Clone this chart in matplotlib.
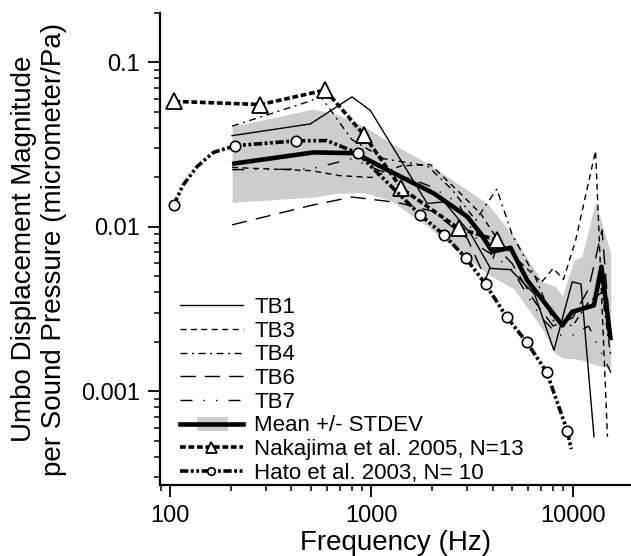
import matplotlib
matplotlib.use('Agg')
import matplotlib.pyplot as plt
from matplotlib.patches import Patch, Rectangle
from matplotlib.lines import Line2D
from matplotlib.legend_handler import HandlerPatch

plt.rcParams['font.family'] = ['Liberation Sans', 'DejaVu Sans']

# individual bones
tb1_f = [203, 497, 801, 988, 1893, 2300, 3112, 3906, 4912, 6470, 8070, 9950, 11000, 12770]
tb1_v = [0.0359, 0.0423, 0.0618, 0.0511, 0.0139, 0.0142, 0.0091, 0.0056, 0.0055, 0.0039, 0.00178, 0.00464, 0.0045, 0.00053]

tb3_f = [203, 500, 700, 1000, 1400, 1960, 2700, 3500, 4200, 5000, 7000, 8000, 9000, 10350, 13000, 14900]
tb3_v = [0.023, 0.022, 0.0205, 0.02, 0.0235, 0.024, 0.0165, 0.012, 0.0085, 0.0068, 0.0046, 0.0056, 0.0048, 0.0083, 0.029, 0.00053]

tb4_f = [203, 490, 560, 800, 1150, 1900, 2500, 3300, 4200, 5000, 6500, 8000, 10000, 12000, 14000, 15500]
tb4_v = [0.041, 0.058, 0.062, 0.034, 0.026, 0.0235, 0.017, 0.011, 0.017, 0.009, 0.005, 0.0027, 0.0025, 0.0035, 0.004, 0.0016]

tb6_f = [203, 500, 800, 1340, 2000, 3000, 3700, 4200, 5000, 6500, 8000, 10000, 12000, 14000, 15500]
tb6_v = [0.0103, 0.0135, 0.0152, 0.0141, 0.0125, 0.0085, 0.0048, 0.0075, 0.006, 0.0035, 0.0025, 0.0028, 0.0042, 0.0096, 0.002]

tb7_f = [203, 500, 800, 1100, 1500, 2000, 2700, 3500, 4200, 5000, 6000, 7000, 8500, 10000, 12000, 15500]
tb7_v = [0.0223, 0.0225, 0.026, 0.022, 0.020, 0.0175, 0.014, 0.0075, 0.0065, 0.0055, 0.0038, 0.0028, 0.0022, 0.0022, 0.0025, 0.0013]

# mean and +/- stdev band
mean_f = [203, 516, 832, 1151, 2043, 2992, 3485, 3985, 4912, 5940, 8890, 9950, 12760, 13900, 15460]
mean_v = [0.0242, 0.0284, 0.0281, 0.0228, 0.016, 0.01156, 0.00915, 0.00708, 0.00748, 0.00475, 0.00252, 0.00305, 0.00334, 0.00573, 0.00205]

band_f = [203, 516, 674, 916, 1245, 1893, 3758, 5105, 7066, 8222, 8900, 10160, 11120, 13000, 15460]
band_hi = [0.0409, 0.0521, 0.0482, 0.041, 0.0324, 0.0244, 0.0139, 0.00873, 0.00465, 0.00433, 0.0038, 0.0063, 0.0066, 0.01425, 0.0069]
band_lo = [0.0141, 0.0152, 0.016, 0.0162, 0.0145, 0.0101, 0.0052, 0.0042, 0.0024, 0.0017, 0.0016, 0.00158, 0.00155, 0.00145, 0.00138]

# literature
nak_f = [105, 281, 590, 916, 1406, 2716, 4218]
nak_v = [0.058, 0.0555, 0.068, 0.0364, 0.0172, 0.0098, 0.0083]

hato_f = [104, 116, 136, 164, 210, 424, 601, 855, 1738, 2306, 2938, 3690, 4699, 5903, 7430, 9400, 9840]
hato_v = [0.0136, 0.018, 0.0233, 0.0284, 0.0312, 0.0334, 0.0335, 0.0281, 0.0119, 0.0089, 0.0065, 0.00449, 0.00284, 0.0020, 0.00131, 0.000578, 0.000447]
hato_marks = [0, 4, 5, 7, 8, 9, 10, 11, 12, 13, 14, 15]

GREY = '#cdcdcd'

fig = plt.figure(figsize=(6.31, 5.56), dpi=100)
ax = fig.add_axes([0.2536, 0.1277, 0.7464, 0.849])

band = ax.fill_between(band_f, band_lo, band_hi, color=GREY, lw=0, zorder=1)

l1, = ax.plot(tb1_f, tb1_v, color='k', lw=1.0, zorder=3)
l3, = ax.plot(tb3_f, tb3_v, color='k', lw=1.0, dashes=(4.3, 3.2), zorder=3)
l4, = ax.plot(tb4_f, tb4_v, color='k', lw=1.0, dashes=(5, 3.3, 1.4, 3.3), zorder=3)
l6, = ax.plot(tb6_f, tb6_v, color='k', lw=1.0, dashes=(11, 6.5), zorder=3)
l7, = ax.plot(tb7_f, tb7_v, color='k', lw=1.0, dashes=(8.6, 8, 1, 8, 1, 8), zorder=3)
lm, = ax.plot(mean_f, mean_v, color='k', lw=3.3, solid_capstyle='butt', zorder=4)

ln, = ax.plot(nak_f, nak_v, color='k', lw=2.6, dashes=(1.6, 0.75),
              marker='^', ms=11, mfc='white', mec='k', mew=1.3, zorder=5)
lh, = ax.plot(hato_f, hato_v, color='k', lw=2.6, dashes=(2.3, 0.7, 0.8, 0.7, 0.8, 0.7),
              marker='o', ms=7.5, mfc='white', mec='k', mew=1.2, markevery=hato_marks, zorder=5)

ax.set_xscale('log')
ax.set_yscale('log')
ax.set_xlim(89, 19500)
ax.set_ylim(0.00027, 0.2)

ax.set_xticks([100, 1000, 10000])
ax.set_xticklabels(['100', '1000', '10000'])
ax.set_yticks([0.001, 0.01, 0.1])
ax.set_yticklabels(['0.001', '0.01', '0.1'])

for s in ['top', 'right']:
    ax.spines[s].set_visible(False)
for s in ['left', 'bottom']:
    ax.spines[s].set_linewidth(1.6)
ax.tick_params(which='major', direction='out', length=8.5, width=1.3, labelsize=17, pad=6)
ax.tick_params(which='minor', direction='out', length=4.5, width=1.1)

ax.set_xlabel('Frequency (Hz)', fontsize=20, labelpad=2)
ax.set_ylabel('Umbo Displacement Magnitude\nper Sound Pressure (micrometer/Pa)', fontsize=20)
ax.yaxis.set_label_coords(-0.198, 0.5)


def short_box(legend, orig_handle, xdescent, ydescent, width, height, fontsize):
    # grey box shorter than the line, as in the original legend
    return Rectangle((-xdescent + 0.27 * width, -ydescent + 0.05 * height),
                     0.49 * width, 0.9 * height)


mean_handle = (Patch(facecolor=GREY, edgecolor='none'), Line2D([], [], color='k', lw=3.3))
ax.legend([l1, l3, l4, l6, l7, mean_handle, ln, lh],
          ['TB1', 'TB3', 'TB4', 'TB6', 'TB7', 'Mean +/- STDEV',
           'Nakajima et al. 2005, N=13', 'Hato et al. 2003, N= 10'],
          loc='upper left', bbox_to_anchor=(0.042, 0.398), frameon=False,
          fontsize=16, handlelength=2.85, handletextpad=0.5, labelspacing=0.12,
          borderpad=0, borderaxespad=0, numpoints=1, markerscale=0.72,
          handler_map={Patch: HandlerPatch(patch_func=short_box)})

fig.savefig('out.png', dpi=100)
